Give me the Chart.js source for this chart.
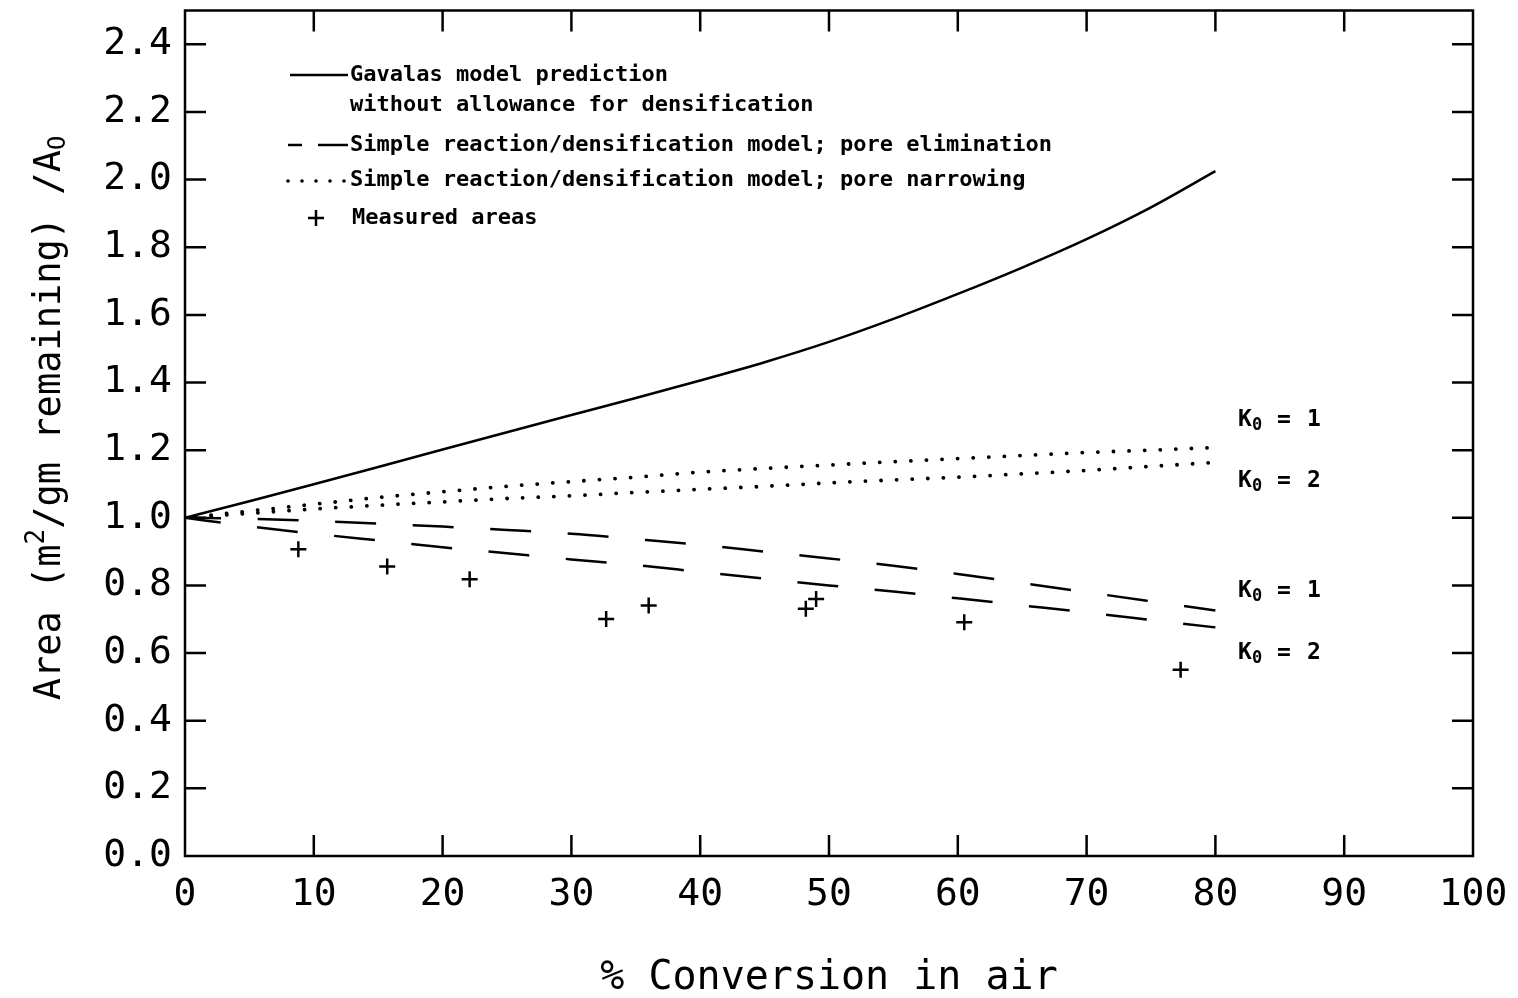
<!DOCTYPE html>
<html>
<head>
<meta charset="utf-8">
<script src="https://cdn.jsdelivr.net/npm/chart.js@4.4.1/dist/chart.umd.min.js"></script>
<style>
  body { margin: 0; background: #fff; }
  canvas { display: block; }
</style>
</head>
<body>
<canvas id="chart" width="1518" height="998"></canvas>
<script>
// % conversion grid used for the model curves
const conversion = [0, 5, 10, 15, 20, 25, 30, 35, 40, 45, 50, 55, 60, 65, 70, 75, 80];
const gavalas = [1.000, 1.049, 1.099, 1.150, 1.202, 1.253, 1.304, 1.354, 1.406, 1.460, 1.520, 1.588, 1.662, 1.740, 1.824, 1.918, 2.025];
const narrowingK1 = [1.000, 1.020, 1.040, 1.060, 1.077, 1.093, 1.107, 1.120, 1.135, 1.146, 1.156, 1.166, 1.175, 1.184, 1.193, 1.200, 1.208];
const narrowingK2 = [1.000, 1.013, 1.026, 1.037, 1.047, 1.057, 1.065, 1.075, 1.084, 1.093, 1.103, 1.112, 1.120, 1.130, 1.140, 1.152, 1.164];
const eliminationK1 = [1.000, 0.997, 0.991, 0.983, 0.974, 0.964, 0.953, 0.937, 0.920, 0.900, 0.880, 0.858, 0.834, 0.807, 0.780, 0.753, 0.726];
const eliminationK2 = [1.000, 0.975, 0.953, 0.933, 0.913, 0.895, 0.877, 0.860, 0.840, 0.820, 0.800, 0.782, 0.762, 0.741, 0.720, 0.698, 0.676];

// measured areas
const measuredX = [8.8, 15.7, 22.1, 32.7, 36.0, 48.2, 49.0, 60.5, 77.3];
const measuredY = [0.907, 0.856, 0.818, 0.701, 0.741, 0.731, 0.760, 0.691, 0.551];

const xTicks = [0, 10, 20, 30, 40, 50, 60, 70, 80, 90, 100];
const yTicks = [0.0, 0.2, 0.4, 0.6, 0.8, 1.0, 1.2, 1.4, 1.6, 1.8, 2.0, 2.2, 2.4];

const legendLines = [
  'Gavalas model prediction',
  'without allowance for densification',
  'Simple reaction/densification model; pore elimination',
  'Simple reaction/densification model; pore narrowing',
  'Measured areas'
];
const kLabels = ['1', '2', '1', '2'];
// y title pieces: [text, kind]
const yTitle = [['Area (m', 'n'], ['2', 'sup'], ['/gm remaining) /A', 'n'], ['O', 'sub']];

const MONO = '"DejaVu Sans Mono", monospace';

const toPoints = (xs, ys) => xs.map((x, i) => ({ x: x, y: ys[i] }));

const curve = (data, dash, width, cap) => ({
  data: data,
  showLine: true,
  borderColor: '#000',
  borderWidth: width,
  borderDash: dash,
  borderDashOffset: 5,
  borderCapStyle: cap,
  pointRadius: 0,
  fill: false,
  cubicInterpolationMode: 'monotone'
});

// frame with inward ticks on all four sides
const frameTicks = {
  id: 'frameTicks',
  afterDraw(chart) {
    const { ctx, chartArea: a, scales: { x, y } } = chart;
    ctx.save();
    ctx.strokeStyle = '#000';
    ctx.lineWidth = 2.5;
    ctx.strokeRect(a.left, a.top, a.right - a.left, a.bottom - a.top);
    const len = 21;
    ctx.beginPath();
    xTicks.forEach(v => {
      if (v <= x.min || v >= x.max) return;
      const px = x.getPixelForValue(v);
      ctx.moveTo(px, a.bottom); ctx.lineTo(px, a.bottom - len);
      ctx.moveTo(px, a.top); ctx.lineTo(px, a.top + len);
    });
    yTicks.forEach(v => {
      if (v <= y.min || v >= y.max) return;
      const py = y.getPixelForValue(v);
      ctx.moveTo(a.left, py); ctx.lineTo(a.left + len, py);
      ctx.moveTo(a.right, py); ctx.lineTo(a.right - len, py);
    });
    ctx.stroke();
    ctx.restore();
  }
};

// the hand-placed legend, the K0 labels and the rotated y title
const notes = {
  id: 'notes',
  afterDraw(chart) {
    const ctx = chart.ctx;
    ctx.save();
    ctx.fillStyle = '#000';
    ctx.strokeStyle = '#000';
    ctx.lineWidth = 2.5;
    ctx.font = 'bold 22px ' + MONO;
    ctx.textBaseline = 'middle';
    ctx.textAlign = 'left';

    // solid sample
    ctx.beginPath();
    ctx.moveTo(290, 75); ctx.lineTo(348, 75);
    ctx.stroke();
    ctx.fillText(legendLines[0], 350, 75);
    ctx.fillText(legendLines[1], 350, 105);

    // dashed sample
    ctx.beginPath();
    ctx.moveTo(288, 145); ctx.lineTo(302, 145);
    ctx.moveTo(318, 145); ctx.lineTo(348, 145);
    ctx.stroke();
    ctx.fillText(legendLines[2], 350, 145);

    // dotted sample
    [288, 302, 316, 330, 344].forEach(px => {
      ctx.beginPath();
      ctx.arc(px, 181, 1.8, 0, Math.PI * 2);
      ctx.fill();
    });
    ctx.fillText(legendLines[3], 350, 180);

    // plus sample
    ctx.beginPath();
    ctx.moveTo(308, 218); ctx.lineTo(324, 218);
    ctx.moveTo(316, 210); ctx.lineTo(316, 226);
    ctx.stroke();
    ctx.fillText(legendLines[4], 352, 218);

    // K0 labels
    [420, 481, 591, 653].forEach((py, i) => {
      ctx.font = 'bold 23px ' + MONO;
      ctx.fillText('K', 1238, py);
      ctx.font = 'bold 17px ' + MONO;
      ctx.fillText('0', 1252, py + 6);
      ctx.font = 'bold 23px ' + MONO;
      ctx.fillText('=', 1277, py);
      ctx.fillText(kLabels[i], 1307, py);
    });

    // y title, rotated
    const fonts = { n: '37px ' + MONO, sup: '26px ' + MONO, sub: '24px ' + MONO };
    const shift = { n: 0, sup: -13, sub: 9 };
    let total = 0;
    yTitle.forEach(([t, k]) => { ctx.font = fonts[k]; total += ctx.measureText(t).width; });
    ctx.translate(50, 418);
    ctx.rotate(-Math.PI / 2);
    let cx = -total / 2;
    yTitle.forEach(([t, k]) => {
      ctx.font = fonts[k];
      ctx.fillText(t, cx, shift[k]);
      cx += ctx.measureText(t).width;
    });
    ctx.restore();
  }
};

new Chart(document.getElementById('chart'), {
  type: 'scatter',
  data: {
    datasets: [
      curve(toPoints(conversion, gavalas), [], 2.5, 'butt'),
      curve(toPoints(conversion, eliminationK1), [41, 36.6], 2.5, 'butt'),
      curve(toPoints(conversion, eliminationK2), [41, 36.6], 2.5, 'butt'),
      curve(toPoints(conversion, narrowingK1), [0.1, 15.5], 3.8, 'round'),
      curve(toPoints(conversion, narrowingK2), [0.1, 15.5], 3.8, 'round'),
      {
        data: toPoints(measuredX, measuredY),
        showLine: false,
        pointStyle: 'cross',
        pointRadius: 8,
        pointBorderWidth: 2.5,
        pointBorderColor: '#000',
        pointBackgroundColor: '#000'
      }
    ]
  },
  options: {
    responsive: false,
    animation: false,
    devicePixelRatio: 1,
    layout: { padding: { top: 10, right: 45, left: 0, bottom: 0 } },
    plugins: {
      legend: { display: false },
      tooltip: { enabled: false }
    },
    scales: {
      x: {
        type: 'linear',
        min: 0,
        max: 100,
        afterFit: s => { s.height = 142; s.paddingLeft = 0; s.paddingRight = 0; },
        afterBuildTicks: s => { s.ticks = xTicks.map(v => ({ value: v })); },
        grid: { display: false, drawTicks: false },
        border: { display: false },
        ticks: {
          padding: 16,
          color: '#000',
          font: { family: MONO, size: 38 },
          callback: v => String(v)
        },
        title: {
          display: true,
          text: '% Conversion in air',
          color: '#000',
          font: { family: MONO, size: 40 },
          padding: { top: 0, bottom: -5 }
        }
      },
      y: {
        type: 'linear',
        min: 0,
        max: 2.5,
        afterFit: s => { s.width = 185; s.paddingTop = 0; s.paddingBottom = 0; },
        afterBuildTicks: s => { s.ticks = yTicks.map(v => ({ value: v })); },
        grid: { display: false, drawTicks: false },
        border: { display: false },
        ticks: {
          padding: 13,
          color: '#000',
          font: { family: MONO, size: 38 },
          callback: v => v.toFixed(1)
        },
        title: { display: false }
      }
    }
  },
  plugins: [frameTicks, notes]
});
</script>
</body>
</html>
